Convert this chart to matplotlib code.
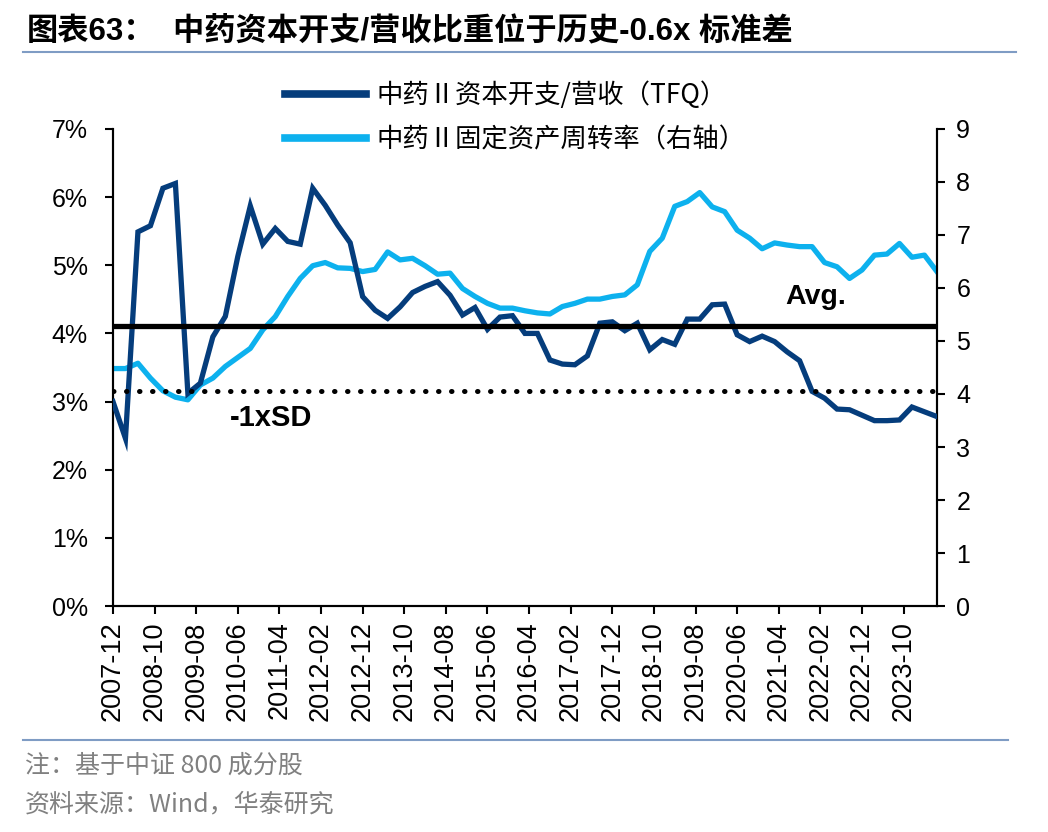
import matplotlib
matplotlib.use("Agg")
import matplotlib.pyplot as plt
from matplotlib.lines import Line2D

plt.rcParams['font.family'] = ['Liberation Sans', 'Noto Sans CJK SC', 'DejaVu Sans']

# quarterly, 2007-12 .. 2024-06
capex_ratio = [3.00, 2.46, 5.49, 5.58, 6.13, 6.20, 3.12, 3.27, 3.95, 4.25,
               5.13, 5.87, 5.31, 5.54, 5.35, 5.31, 6.13, 5.88, 5.59, 5.33,
               4.54, 4.34, 4.22, 4.39, 4.60, 4.69, 4.76, 4.56, 4.27, 4.38,
               4.06, 4.24, 4.26, 4.00, 4.00, 3.61, 3.55, 3.54, 3.67, 4.15,
               4.17, 4.04, 4.15, 3.76, 3.91, 3.84, 4.21, 4.21, 4.42, 4.43,
               3.98, 3.88, 3.96, 3.88, 3.73, 3.60, 3.15, 3.05, 2.89, 2.88,
               2.80, 2.72, 2.72, 2.73, 2.92, 2.85, 2.78]  # %
asset_turnover = [4.48, 4.48, 4.58, 4.30, 4.06, 3.94, 3.89, 4.17, 4.30, 4.52,
                  4.69, 4.86, 5.21, 5.46, 5.84, 6.18, 6.42, 6.48, 6.38, 6.37,
                  6.31, 6.35, 6.68, 6.53, 6.56, 6.42, 6.26, 6.28, 5.99, 5.84,
                  5.71, 5.62, 5.62, 5.57, 5.53, 5.51, 5.65, 5.71, 5.79, 5.79,
                  5.84, 5.87, 6.06, 6.69, 6.94, 7.54, 7.63, 7.80, 7.53, 7.44,
                  7.09, 6.94, 6.74, 6.85, 6.81, 6.78, 6.78, 6.48, 6.40, 6.18,
                  6.34, 6.62, 6.64, 6.84, 6.58, 6.62, 6.31]
avg_val = 4.11
sd_val = 3.16

tick_labels = ['2007-12', '2008-10', '2009-08', '2010-06', '2011-04', '2012-02',
               '2012-12', '2013-10', '2014-08', '2015-06', '2016-04', '2017-02',
               '2017-12', '2018-10', '2019-08', '2020-06', '2021-04', '2022-02',
               '2022-12', '2023-10']

label_capex = '中药Ⅱ资本开支/营收（TFQ）'
label_turn = '中药Ⅱ固定资产周转率（右轴）'

dark = '#053D7C'
light = '#0DB1EE'

months = [3 * i for i in range(len(capex_ratio))]  # months since 2007-12
tick_pos = [10 * i for i in range(len(tick_labels))]

fig = plt.figure(figsize=(10.48, 8.32), dpi=100)
ax = fig.add_axes([0.1078, 0.2716, 0.7862, 0.5734])
ax2 = ax.twinx()

ax.plot(months, capex_ratio, color=dark, lw=3.8, solid_joinstyle='miter', zorder=3)
ax2.plot(months, asset_turnover, color=light, lw=3.8, zorder=2)
ax.axhline(avg_val, color='black', lw=3.8, zorder=4)
ax.axhline(sd_val, color='black', lw=3.6, ls=(0, (0.1, 2.5)), dash_capstyle='round', zorder=4)

ax.set_zorder(ax2.get_zorder() + 1)
ax.patch.set_visible(False)

ax.set_xlim(0, months[-1])
ax.set_ylim(0, 7)
ax2.set_ylim(0, 9)
ax.set_yticks(range(8))
ax.set_yticklabels([f'{v}%' for v in range(8)])
ax2.set_yticks(range(10))
ax.set_xticks(tick_pos)
ax.set_xticklabels(tick_labels, rotation=90)

for a in (ax, ax2):
    a.spines['top'].set_visible(False)
    for s in ('left', 'right', 'bottom'):
        a.spines[s].set_linewidth(1.5)
    a.tick_params(width=1.5, length=6, labelsize=18, direction='out')
ax.tick_params(axis='y', pad=12)
ax2.tick_params(axis='y', pad=8)
ax.tick_params(axis='x', labelsize=19.5, pad=5)

ax.text(0.853, 0.648, 'Avg.', transform=ax.transAxes, fontsize=20.5, fontweight='bold',
        ha='center', va='center')
ax.text(0.192, 0.394, '-1xSD', transform=ax.transAxes, fontsize=21, fontweight='bold',
        ha='center', va='center')

handles = [Line2D([], [], color=dark, lw=5.5), Line2D([], [], color=light, lw=5.5)]
fig.legend(handles, [label_capex, label_turn], loc='upper left',
           bbox_to_anchor=(0.2595, 0.918), frameon=False,
           handlelength=3.07, handletextpad=0.38, labelspacing=0.67, borderpad=0,
           prop={'family': ['Noto Sans CJK SC'], 'size': 19})

fig.text(0.026, 0.962, '图表63：', fontsize=22.5, fontweight='bold', ha='left', va='center',
         family=['Liberation Sans', 'Noto Sans CJK SC'])
fig.text(0.165, 0.962, '中药资本开支/营收比重位于历史-0.6x 标准差',
         fontsize=22.5, fontweight='bold', ha='left', va='center',
         family=['Liberation Sans', 'Noto Sans CJK SC'])
fig.add_artist(Line2D([0.022, 0.969], [0.938, 0.938], color='#7F9CC4', lw=1.5))
fig.add_artist(Line2D([0.022, 0.962], [0.110, 0.110], color='#7F9CC4', lw=1.5))
fig.text(0.024, 0.080, '注：基于中证 800 成分股', fontsize=18, color='#808080',
         ha='left', va='center', family=['Noto Sans CJK SC'])
fig.text(0.024, 0.033, '资料来源：Wind，华泰研究', fontsize=18, color='#808080',
         ha='left', va='center', family=['Noto Sans CJK SC'])

fig.savefig('out.png', dpi=100)
